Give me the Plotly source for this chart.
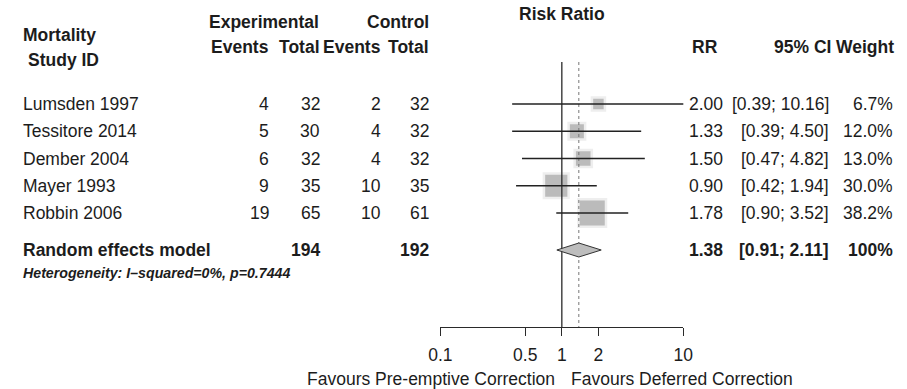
import numpy as np
import plotly.graph_objects as go

# ---- data -------------------------------------------------------------
studies = ["Lumsden 1997", "Tessitore 2014", "Dember 2004", "Mayer 1993", "Robbin 2006"]
exp_events = [4, 5, 6, 9, 19]
exp_total = [32, 30, 32, 35, 65]
ctl_events = [2, 4, 4, 10, 10]
ctl_total = [32, 32, 32, 35, 61]
rr = [2.00, 1.33, 1.50, 0.90, 1.78]
ci_low = [0.39, 0.39, 0.47, 0.42, 0.90]
ci_high = [10.16, 4.50, 4.82, 1.94, 3.52]
weight = [6.7, 12.0, 13.0, 30.0, 38.2]

pooled_rr = 1.38
pooled_low = 0.91
pooled_high = 2.11
pooled_exp_total = 194
pooled_ctl_total = 192
heterogeneity = "Heterogeneity: I\u2013squared=0%, p=0.7444"

tick_vals = [0.1, 0.5, 1, 2, 10]
tick_text = ["0.1", "0.5", "1", "2", "10"]

# ---- layout geometry (pixels) -----------------------------------------
W, H = 907, 389
ROW0_PX, ROW_STEP = 104, 27.25
SUMMARY_PX, HET_PX = 250, 273
AXIS_PX, LINE_TOP_PX = 327, 62
X_LO_PX, X_HI_PX = 439, 688

FONT = "Liberation Sans, Arial, Helvetica, sans-serif"
INK = "#1c1c1c"
FS = 17.5


def row_of(px):
    return (px - ROW0_PX) / ROW_STEP


def px(x):
    return x / W


def py(y):
    return 1 - y / H


rows = list(range(len(studies)))
summary_row = row_of(SUMMARY_PX)

fig = go.Figure()

# study squares, area proportional to weight (soft grey boxes)
sizes = [4.05 * np.sqrt(w) for w in weight]
fig.add_trace(go.Scatter(x=rr, y=rows, mode="markers",
                         marker=dict(symbol="square", size=[s + 5 for s in sizes],
                                     color="rgba(170,170,170,0.28)", line=dict(width=0)),
                         hoverinfo="skip"))
fig.add_trace(go.Scatter(x=rr, y=rows, mode="markers",
                         marker=dict(symbol="square", size=sizes,
                                     color="rgba(145,145,145,0.78)", line=dict(width=0)),
                         hoverinfo="skip"))

# reference line at RR = 1 and dotted line at the pooled estimate
fig.add_trace(go.Scatter(x=[1, 1], y=[row_of(LINE_TOP_PX), row_of(AXIS_PX)], mode="lines",
                         line=dict(color="#2a2a2a", width=1.3), hoverinfo="skip"))
fig.add_trace(go.Scatter(x=[pooled_rr, pooled_rr], y=[row_of(LINE_TOP_PX), row_of(AXIS_PX)],
                         mode="lines", line=dict(color="#777", width=1, dash="dot"),
                         hoverinfo="skip"))

# confidence intervals, drawn over the squares
cx, cy = [], []
for r, lo, hi in zip(rows, ci_low, ci_high):
    cx += [lo, hi, None]
    cy += [r, r, None]
fig.add_trace(go.Scatter(x=cx, y=cy, mode="lines", line=dict(color="#222", width=1.3),
                         hoverinfo="skip"))

# pooled diamond
dh = 7 / ROW_STEP
fig.add_trace(go.Scatter(x=[pooled_low, pooled_rr, pooled_high, pooled_rr, pooled_low],
                         y=[summary_row, summary_row - dh, summary_row, summary_row + dh, summary_row],
                         mode="lines", fill="toself", fillcolor="#bdbdbd",
                         line=dict(color="#333", width=1), hoverinfo="skip"))

ann = []


def txt(text, x, y, anchor="left", bold=False, italic=False, size=FS, yref="y"):
    t = text
    if bold:
        t = "<b>" + t + "</b>"
    if italic:
        t = "<i>" + t + "</i>"
    ann.append(dict(text=t, x=px(x), y=y if yref == "y" else py(y), xref="paper", yref=yref,
                    xanchor=anchor, yanchor="middle", showarrow=False, borderpad=0,
                    font=dict(family=FONT, size=size, color=INK)))


# headers
txt("Risk Ratio", 564, 14, "center", bold=True, yref="paper")
txt("Experimental", 316, 22, "right", bold=True, yref="paper")
txt("Control", 428, 22, "right", bold=True, yref="paper")
txt("Mortality", 10, 35, "left", bold=True, yref="paper")
txt("Study ID", 15, 60, "left", bold=True, yref="paper")
for label, xr in [("Events", 264), ("Total", 317), ("Events", 379), ("Total", 428)]:
    txt(label, xr, 47, "right", bold=True, yref="paper")
txt("RR", 725, 47, "right", bold=True, yref="paper")
txt("95% CI", 840, 47, "right", bold=True, yref="paper")
txt("Weight", 905, 47, "right", bold=True, yref="paper")

# study rows
for r, name, ee, et, ce, ct, est, lo, hi, w in zip(rows, studies, exp_events, exp_total,
                                                     ctl_events, ctl_total, rr, ci_low,
                                                     ci_high, weight):
    txt(name, 10, r)
    txt(str(ee), 264, r, "right")
    txt(str(et), 317, r, "right")
    txt(str(ce), 379, r, "right")
    txt(str(ct), 428, r, "right")
    txt(f"{est:.2f}", 730, r, "right")
    txt(f"[{lo:.2f}; {hi:.2f}]", 838, r, "right")
    txt(f"{w:.1f}%", 904, r, "right")

# summary row
txt("Random effects model", 10, summary_row, bold=True)
txt(str(pooled_exp_total), 317, summary_row, "right", bold=True)
txt(str(pooled_ctl_total), 428, summary_row, "right", bold=True)
txt(f"{pooled_rr:.2f}", 730, summary_row, "right", bold=True)
txt(f"[{pooled_low:.2f}; {pooled_high:.2f}]", 838, summary_row, "right", bold=True)
txt("100%", 904, summary_row, "right", bold=True)
txt(heterogeneity, 10, row_of(HET_PX), bold=True, italic=True, size=14.2)

# axis captions
txt("Favours Pre-emptive Correction", 558, 379, "right", yref="paper")
txt("Favours Deferred Correction", 572, 379, "left", yref="paper")

fig.update_layout(
    width=W, height=H, margin=dict(l=0, r=0, t=0, b=0),
    paper_bgcolor="white", plot_bgcolor="rgba(0,0,0,0)",
    showlegend=False, annotations=ann,
    xaxis=dict(type="log", range=[-1, 1], domain=[px(X_LO_PX), px(X_HI_PX)],
               tickvals=tick_vals, ticktext=tick_text, showgrid=False, zeroline=False,
               showline=True, linecolor="#2a2a2a", linewidth=1.2, ticks="outside",
               ticklen=8, tickcolor="#2a2a2a", tickwidth=1.2, anchor="free",
               position=py(AXIS_PX), ticklabelstandoff=4,
               tickfont=dict(family=FONT, size=FS, color=INK)),
    yaxis=dict(range=[row_of(H), row_of(0)], domain=[0, 1], visible=False),
)

fig.write_html("out.html")
